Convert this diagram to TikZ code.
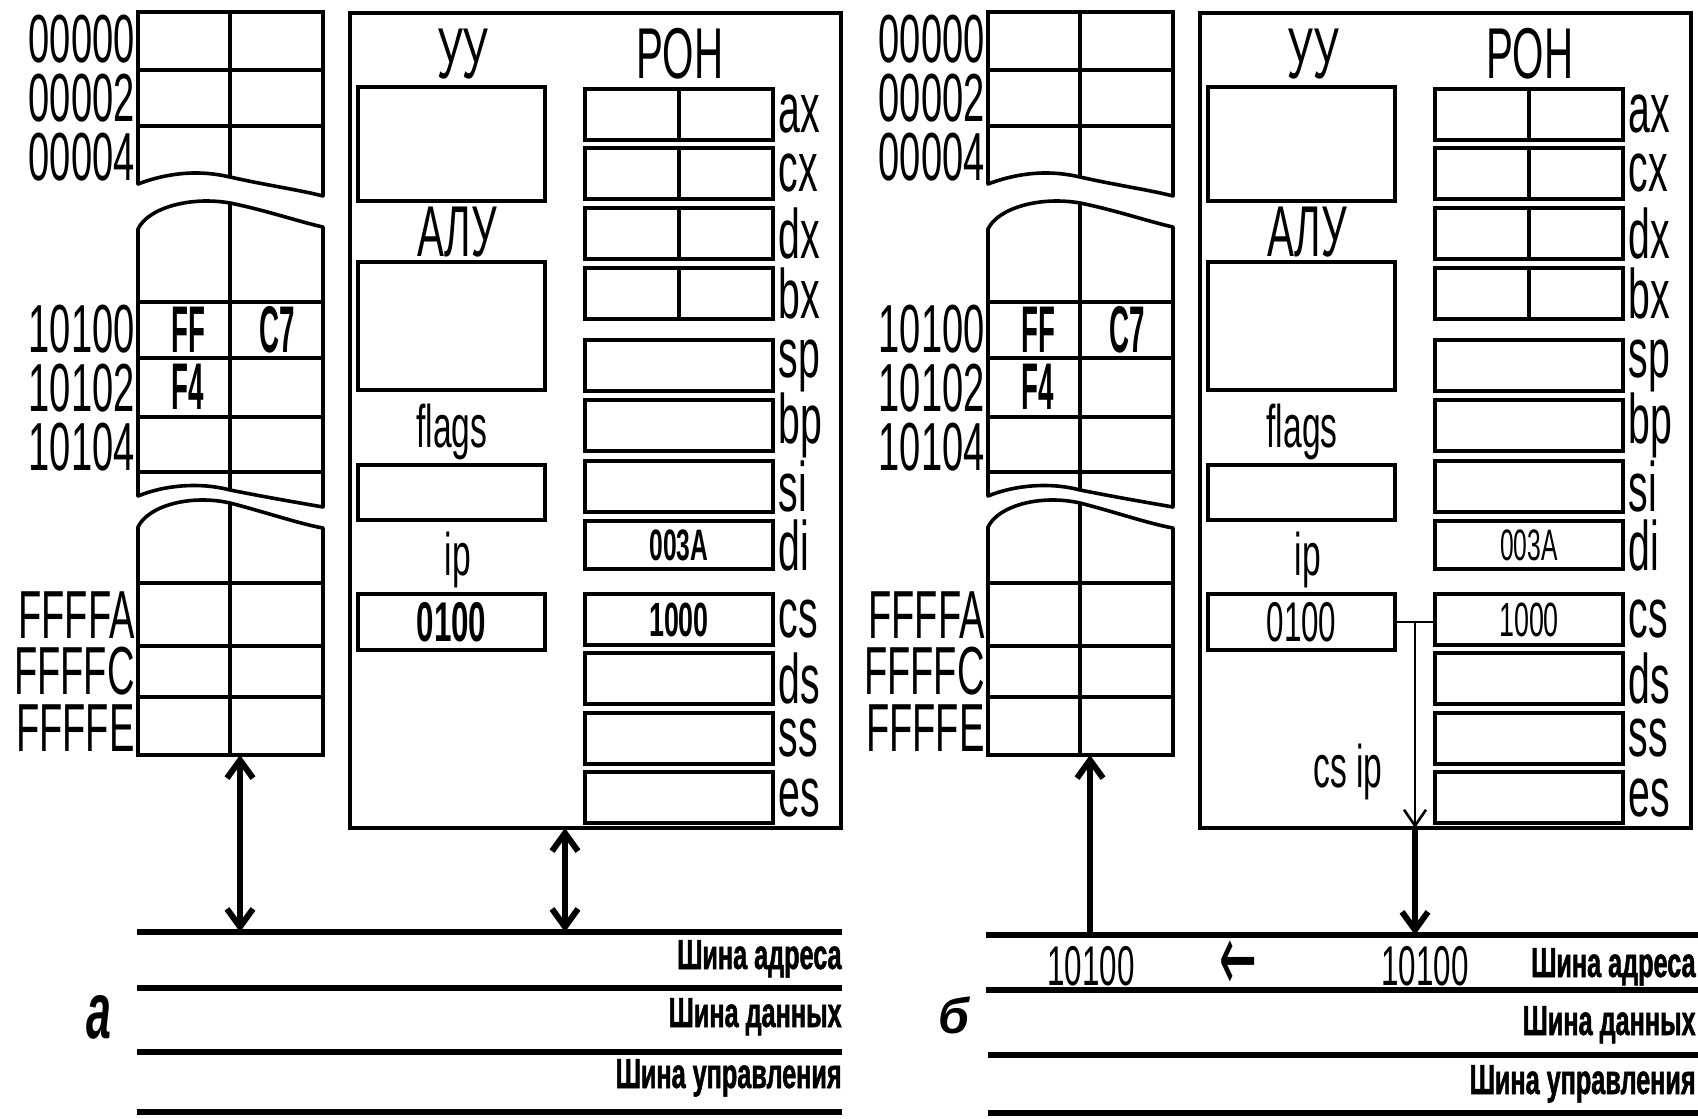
\documentclass[tikz,border=0pt]{standalone}
\usepackage{fontspec}
\usepackage{graphicx}
\setmainfont{Liberation Sans}
\newfontfamily\cn[FakeStretch=0.56]{Liberation Sans}
\newfontfamily\cnw[FakeStretch=0.6,FakeBold=1.2]{Liberation Sans}
\newfontfamily\cnx[FakeStretch=0.42]{Liberation Sans}
\newfontfamily\arrfont{DejaVu Sans}
\usetikzlibrary{arrows.meta}

\newcommand\rbox[7][]{\node[box,#1,minimum width={(#5-#3)*0.5pt},minimum height={(#6-#4)*0.5pt}] (#2) at ({(#3+#5)/2},{(#4+#6)/2}) {#7};}

\tikzset{
 box/.style={draw,line width=2pt,inner sep=0pt,outer sep=0pt},
 cell/.style={line width=1.8pt},
 ml/.style={line width=1.8pt,line join=round},
 addr/.style={font=\cn\fontsize{34}{34}\selectfont,anchor=base east,inner sep=0pt},
 rlab/.style={font=\cn\fontsize{35}{35}\selectfont,anchor=west,inner sep=0pt},
 ttl/.style={font=\cn\fontsize{36}{36}\selectfont,anchor=base,inner sep=0pt},
 sttl/.style={font=\cn\fontsize{30}{30}\selectfont,anchor=base,inner sep=0pt},
 mval/.style={font=\cnx\bfseries\fontsize{33}{33}\selectfont,anchor=base,inner sep=0pt},
 busline/.style={line width=3pt},
 buslbl/.style={font=\cnw\bfseries\fontsize{21}{21}\selectfont,anchor=base east,inner sep=0pt},
 arrw/.style={line width=3pt,>={Straight Barb[length=9pt,width=13pt]}},
 thinarr/.style={line width=1.3pt,-{Straight Barb[length=8pt,width=11pt]}},
}

\newcommand\panel[3]{%
\begin{scope}[shift={(#2,0)}]
% memory column
\rbox[cell]{#1m0}{138}{12}{323}{70}{}
\rbox[cell]{#1m1}{138}{70}{323}{126}{}
\draw[ml] (138,126) -- (138,184) .. controls (170,172) and (200,170) .. (230,177) .. controls (265,185) and (300,190) .. (323,196) -- (323,126);
\draw[ml] (230,12) -- (230,177);
\draw[ml] (138,302) -- (138,229) .. controls (148,208) and (190,196) .. (230,203) .. controls (265,210) and (300,222) .. (323,227) -- (323,302);
\rbox[cell]{#1m3}{138}{302}{323}{358}{}
\rbox[cell]{#1m4}{138}{358}{323}{417}{}
\rbox[cell]{#1m5}{138}{417}{323}{472}{}
\draw[ml] (138,472) -- (138,496) .. controls (165,485) and (200,482) .. (230,490) .. controls (265,497) and (300,503) .. (323,507) -- (323,472);
\draw[ml] (230,203) -- (230,490);
\draw[ml] (138,583) -- (138,527) .. controls (148,506) and (190,494) .. (230,503) .. controls (265,512) and (300,524) .. (323,528) -- (323,583);
\rbox[cell]{#1m6}{138}{583}{323}{646}{}
\rbox[cell]{#1m7}{138}{646}{323}{697}{}
\rbox[cell]{#1m8}{138}{697}{323}{755}{}
\draw[ml] (230,503) -- (230,755);
\node[addr] (#1a0) at (135,62) {00000};
\node[addr] (#1a1) at (135,121) {00002};
\node[addr] (#1a2) at (135,180) {00004};
\node[addr] (#1a3) at (135,352) {10100};
\node[addr] (#1a4) at (135,411) {10102};
\node[addr] (#1a5) at (135,470) {10104};
\node[addr] (#1a6) at (135,638) {FFFFA};
\node[addr] (#1a7) at (135,694) {FFFFC};
\node[addr] (#1a8) at (135,751) {FFFFE};
\node[mval] (#1vff) at (188,352) {FF};
\node[mval] (#1vc7) at (277,352) {C7};
\node[mval] (#1vf4) at (188,409) {F4};
% processor
\rbox{#1cpu}{350}{13}{841}{828}{}
\rbox{#1uu}{358}{87}{545}{201}{}
\rbox{#1alu}{358}{262}{545}{390}{}
\rbox{#1flags}{358}{465}{545}{520}{}
\rbox{#1ip}{358}{594}{545}{650}{}
\node[ttl] (#1tuu) at (463,78) {УУ};
\node[ttl] (#1tron) at (680,78) {РОН};
\node[ttl] (#1talu) at (457,256) {АЛУ};
\node[sttl] (#1tfl) at (452,447) {flags};
\node[sttl] (#1tip) at (458,575) {ip};
\node[font=\cn\fontsize{28}{28}\selectfont#3,inner sep=0pt] (#1vip) at (#1ip) {0100};
% registers
\rbox{#1ax}{585}{89}{773}{140}{}
\rbox{#1cx}{585}{148}{773}{199}{}
\rbox{#1dx}{585}{208}{773}{259}{}
\rbox{#1bx}{585}{268}{773}{319}{}
\rbox{#1sp}{585}{340}{773}{391}{}
\rbox{#1bp}{585}{400}{773}{451}{}
\rbox{#1si}{585}{461}{773}{512}{}
\rbox{#1di}{585}{521}{773}{569}{}
\rbox{#1cs}{585}{594}{773}{645}{}
\rbox{#1ds}{585}{653}{773}{704}{}
\rbox{#1ss}{585}{713}{773}{764}{}
\rbox{#1es}{585}{772}{773}{823}{}
\foreach \rg in {ax,cx,dx,bx} {\draw[line width=2pt] (#1\rg.north) -- (#1\rg.south);}
\foreach \rg in {ax,cx,dx,bx,sp,bp,si,di,cs,ds,ss,es} {\node[rlab] (#1\rg-lbl) at ([xshift=2.5pt]#1\rg.east) {\rg};}
\node[font=\cn\fontsize{22}{22}\selectfont#3,inner sep=0pt] (#1vdi) at (#1di) {003A};
\node[font=\cn\fontsize{24}{24}\selectfont#3,inner sep=0pt] (#1vcs) at (#1cs) {1000};
\end{scope}}

\begin{document}
\begin{tikzpicture}[x=0.5pt,y=-0.5pt]
\useasboundingbox (0,0) rectangle (1698,1119);
\panel{a-}{0}{\bfseries}
\panel{b-}{850}{}

% buses, panel a
\coordinate (a-busA) at (137,932); \coordinate (a-busAe) at (842,932);
\coordinate (a-busD) at (137,988); \coordinate (a-busDe) at (842,988);
\coordinate (a-busC) at (137,1052); \coordinate (a-busCe) at (842,1052);
\coordinate (a-busE) at (137,1112); \coordinate (a-busEe) at (842,1112);
\draw[busline] (a-busA) -- (a-busAe);
\draw[busline] (a-busD) -- (a-busDe);
\draw[busline] (a-busC) -- (a-busCe);
\draw[busline] (a-busE) -- (a-busEe);
\node[buslbl] (a-lA) at (842,969) {Шина адреса};
\node[buslbl] (a-lD) at (842,1027) {Шина данных};
\node[buslbl] (a-lC) at (842,1088) {Шина управления};
\node[font=\cn\bfseries\itshape\fontsize{40}{40}\selectfont,inner sep=0pt] (a-lbl) at (99,1017) {а};

% buses, panel b
\coordinate (b-busA) at (986,935); \coordinate (b-busAe) at (1698,935);
\coordinate (b-busD) at (986,990); \coordinate (b-busDe) at (1698,990);
\coordinate (b-busC) at (988,1055); \coordinate (b-busCe) at (1698,1055);
\coordinate (b-busE) at (988,1113); \coordinate (b-busEe) at (1698,1113);
\draw[busline] (b-busA) -- (b-busAe);
\draw[busline] (b-busD) -- (b-busDe);
\draw[busline] (b-busC) -- (b-busCe);
\draw[busline] (b-busE) -- (b-busEe);
\node[buslbl] (b-lA) at (1696,977) {Шина адреса};
\node[buslbl] (b-lD) at (1696,1035) {Шина данных};
\node[buslbl] (b-lC) at (1696,1094) {Шина управления};
\node[font=\bfseries\itshape\fontsize{25}{25}\selectfont,inner sep=0pt] (b-lbl) at (954,1015) {б};

% connectors, panel a
\coordinate (a-mo) at ([xshift=4.75pt]a-m8.south);
\coordinate (a-co) at ([xshift=-15.25pt]a-cpu.south);
\draw[arrw,<->] (a-mo) -- (a-mo |- a-busA);
\draw[arrw,<->] (a-co) -- (a-co |- a-busA);

% connectors, panel b
\coordinate (b-mo) at ([xshift=4.75pt]b-m8.south);
\draw[arrw,->] (b-mo |- b-busA) -- (b-mo);
\draw[line width=1.3pt] (b-ip.east) -- (b-ip.east -| b-cs.west) coordinate[midway] (b-j);
\draw[thinarr] (b-j) -- (b-j |- b-cpu.south);
\draw[arrw,->] (b-j |- b-cpu.south) -- (b-j |- b-busA);
\node[font=\cn\fontsize{30}{30}\selectfont,anchor=base,inner sep=0pt] (b-csip) at (1348,787) {cs ip};
\node[font=\cn\fontsize{28}{28}\selectfont,anchor=base,inner sep=0pt] (b-ad1) at (1091,985) {10100};
\node[font=\cn\fontsize{28}{28}\selectfont,anchor=base,inner sep=0pt] (b-ad2) at (1425,985) {10100};
\node[font=\arrfont\fontsize{30}{30}\selectfont,inner sep=0pt] (b-larr) at (1238,966) {\scalebox{0.75}[1.6]{←}};
\end{tikzpicture}
\end{document}
